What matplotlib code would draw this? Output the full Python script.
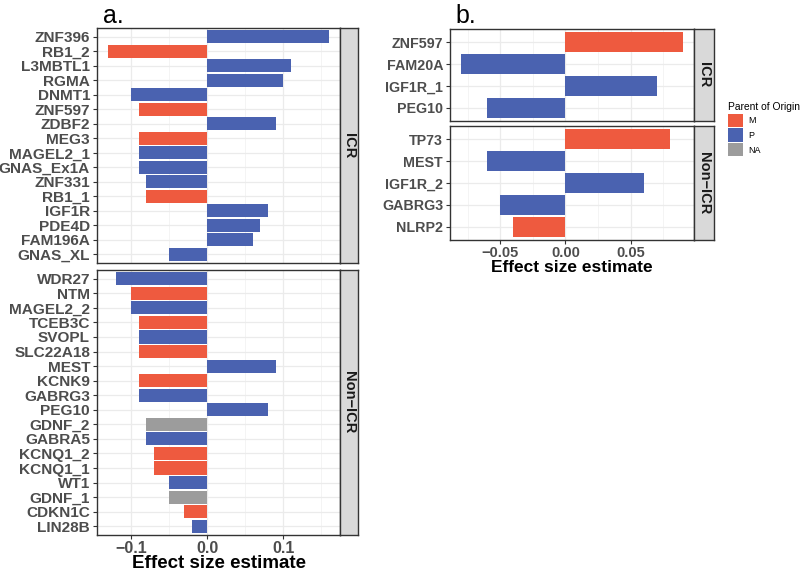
import matplotlib
matplotlib.use("Agg")
import matplotlib.pyplot as plt
from matplotlib.patches import Patch

plt.rcParams['font.family'] = ['Liberation Sans', 'DejaVu Sans']

# panel a, ICR
a_icr_genes = ["ZNF396", "RB1_2", "L3MBTL1", "RGMA", "DNMT1", "ZNF597", "ZDBF2",
               "MEG3", "MAGEL2_1", "GNAS_Ex1A", "ZNF331", "RB1_1", "IGF1R",
               "PDE4D", "FAM196A", "GNAS_XL"]
a_icr_eff = [0.16, -0.13, 0.11, 0.10, -0.10, -0.09, 0.09, -0.09, -0.09, -0.09,
             -0.08, -0.08, 0.08, 0.07, 0.06, -0.05]
a_icr_poo = ["P", "M", "P", "P", "P", "M", "P", "M", "P", "P", "P", "M", "P",
             "P", "P", "P"]

# panel a, Non-ICR
a_non_genes = ["WDR27", "NTM", "MAGEL2_2", "TCEB3C", "SVOPL", "SLC22A18", "MEST",
               "KCNK9", "GABRG3", "PEG10", "GDNF_2", "GABRA5", "KCNQ1_2",
               "KCNQ1_1", "WT1", "GDNF_1", "CDKN1C", "LIN28B"]
a_non_eff = [-0.12, -0.10, -0.10, -0.09, -0.09, -0.09, 0.09, -0.09, -0.09, 0.08,
             -0.08, -0.08, -0.07, -0.07, -0.05, -0.05, -0.03, -0.02]
a_non_poo = ["P", "M", "P", "M", "P", "M", "P", "M", "P", "P", "NA", "P", "M",
             "M", "P", "NA", "M", "P"]

# panel b
b_icr_genes = ["ZNF597", "FAM20A", "IGF1R_1", "PEG10"]
b_icr_eff = [0.09, -0.08, 0.07, -0.06]
b_icr_poo = ["M", "P", "P", "P"]

b_non_genes = ["TP73", "MEST", "IGF1R_2", "GABRG3", "NLRP2"]
b_non_eff = [0.08, -0.06, 0.06, -0.05, -0.04]
b_non_poo = ["M", "P", "P", "P", "M"]

a_xticks = [-0.1, 0.0, 0.1]
a_xticklabels = ["\u22120.1", "0.0", "0.1"]
a_minor = [-0.05, 0.05, 0.15]
b_xticks = [-0.05, 0.0, 0.05]
b_xticklabels = ["\u22120.05", "0.00", "0.05"]
b_minor = [-0.075, -0.025, 0.025, 0.075]

colors = {"M": "#EE5A3F", "P": "#4A62B0", "NA": "#9C9C9C"}

W, H = 800, 574
fig = plt.figure(figsize=(W / 100, H / 100), dpi=100)


def box(x0, y0, x1, y1):
    return [x0 / W, 1 - y1 / H, (x1 - x0) / W, (y1 - y0) / H]


def facet(rect, strip_rect, genes, eff, poo, xlim, xticks, xlabels, minor, label,
          show_x, ysize, xsize, labsize, labpad=0):
    ax = fig.add_axes(box(*rect))
    n = len(genes)
    ypos = list(range(n))[::-1]
    ax.barh(ypos, eff, height=0.9, color=[colors[p] for p in poo], zorder=3)
    ax.set_xlim(*xlim)
    ax.set_ylim(-0.6, n - 0.4)
    ax.set_yticks(ypos)
    ax.set_yticklabels(genes, fontsize=ysize, fontweight="bold", color="#4D4D4D")
    ax.set_xticks(xticks)
    ax.set_xticks(minor, minor=True)
    ax.grid(True, which="major", color="#EBEBEB", lw=0.9, zorder=0)
    ax.grid(True, which="minor", axis="x", color="#F3F3F3", lw=0.6, zorder=0)
    ax.tick_params(axis="y", length=3, color="#333333", pad=2)
    ax.tick_params(axis="x", which="minor", length=0)
    if show_x:
        ax.set_xticklabels(xlabels, fontsize=xsize, fontweight="bold",
                           color="#4D4D4D")
        ax.tick_params(axis="x", length=3, color="#333333", pad=1)
        ax.set_xlabel("Effect size estimate", fontsize=labsize, fontweight="bold",
                      labelpad=labpad)
    else:
        ax.tick_params(axis="x", length=0, labelbottom=False)
    for s in ax.spines.values():
        s.set_color("#333333")
        s.set_linewidth(1.0)

    sax = fig.add_axes(box(*strip_rect))
    sax.set_facecolor("#D9D9D9")
    sax.set_xticks([])
    sax.set_yticks([])
    for s in sax.spines.values():
        s.set_color("#333333")
        s.set_linewidth(1.0)
    sax.text(0.5, 0.5, label, rotation=270, ha="center", va="center",
             fontsize=10.5, fontweight="bold", color="#1A1A1A",
             transform=sax.transAxes)
    return ax


xlim_a = (-0.1445, 0.1745)
facet((97, 28, 340, 263), (340, 28, 358, 263), a_icr_genes, a_icr_eff, a_icr_poo,
      xlim_a, a_xticks, a_xticklabels, a_minor, "ICR", False, 11.1, 12, 14)
facet((97, 270, 340, 535), (340, 270, 358, 535), a_non_genes, a_non_eff, a_non_poo,
      xlim_a, a_xticks, a_xticklabels, a_minor, "Non\u2212ICR", True, 11.1, 11.5, 13.5,
      labpad=-0.5)

xlim_b = (-0.0885, 0.0985)
facet((450, 29, 694, 121), (694, 29, 714, 121), b_icr_genes, b_icr_eff, b_icr_poo,
      xlim_b, b_xticks, b_xticklabels, b_minor, "ICR", False, 10.3, 10.5, 12.5)
facet((450, 126, 694, 240), (694, 126, 714, 240), b_non_genes, b_non_eff, b_non_poo,
      xlim_b, b_xticks, b_xticklabels, b_minor, "Non\u2212ICR", True, 10.3, 10.5, 12.5)

fig.text(103 / W, 1 - 16 / H, "a.", fontsize=18, ha="left", va="center")
fig.text(455 / W, 1 - 16 / H, "b.", fontsize=18, ha="left", va="center")

handles = [Patch(facecolor=colors[k], edgecolor="none") for k in ["M", "P", "NA"]]
fig.legend(handles, ["M", "P", "NA"], title="Parent of Origin",
           loc="upper left", bbox_to_anchor=(721 / W, 1 - 95 / H), frameon=False,
           fontsize=6.5, title_fontsize=7.4, handlelength=1.6, handleheight=1.9,
           handletextpad=0.6, labelspacing=0.15, alignment="left", borderpad=0.3)

fig.savefig("out.png", dpi=100)
